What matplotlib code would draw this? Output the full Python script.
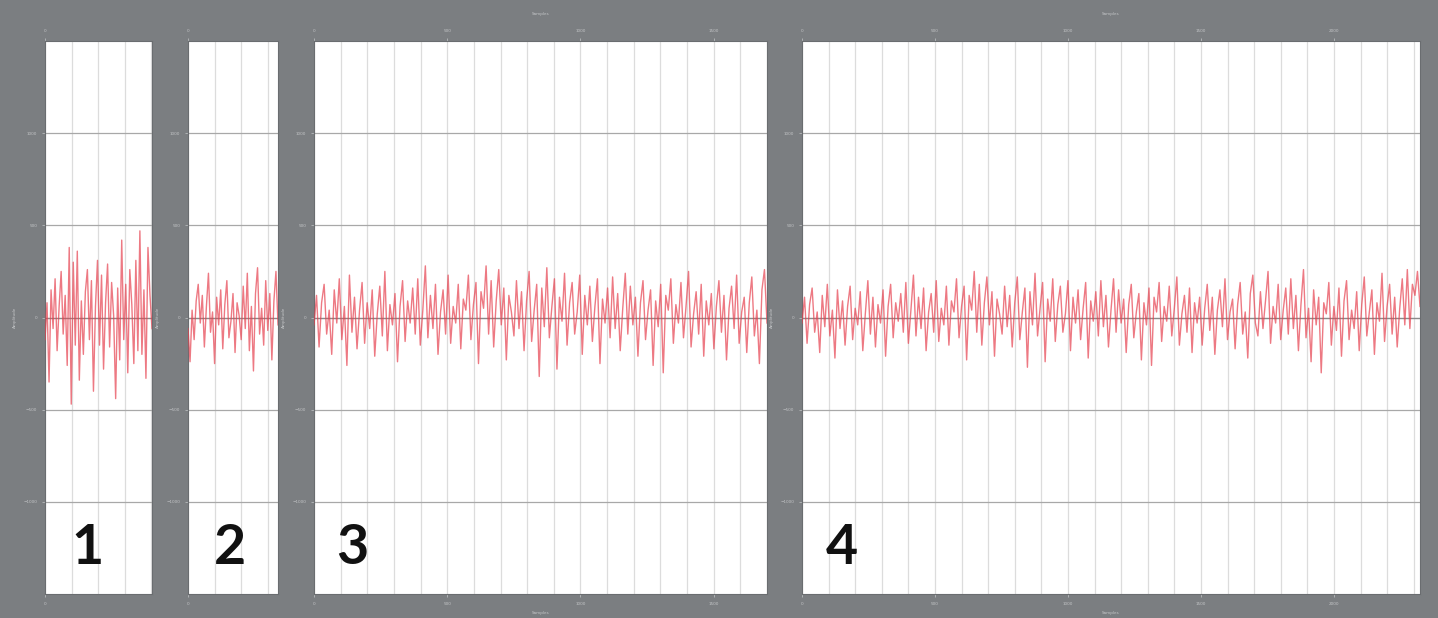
import matplotlib.pyplot as plt
import numpy as np

# signal values (same y units for every panel)
panel1 = [-120, 80, -350, 150, -60, 210, -180, 60, 250, -90, 120, -260, 380, -470, 300, -150,
          360, -340, 90, -200, 140, 260, -120, 200, -400, 60, 310, -150, 230, -280, 80, 290,
          -160, 190, 10, -440, 160, -230, 420, -120, 180, -300, 260, 70, -250, 310, -180, 470,
          -200, 150, -330, 380, 120, -60]

panel2 = [-60, -240, 40, -120, 90, 180, -30, 120, -160, 60, 240, -80, 30, -250, 110, -40,
          150, -170, 70, 200, -110, -20, 130, -190, 80, 10, -120, 170, -60, 240, -180, 60,
          -290, 130, 270, -90, 50, -150, 200, -70, 130, -230, 90, 250, -40]

panel3 = [-40, 120, -160, 80, 180, -90, 40, -200, 150, -30, 210, -120, 60, -260, 230, -80, 110, -170, 40, 190,
          -140, 80, -60, 150, -210, 20, 170, -100, 250, -180, 70, -40, 130, -240, 60, 200, -130, 90, -30, 160,
          -90, 210, -150, 40, 280, -110, 120, -60, 180, -200, 30, 150, -90, 230, -140, 60, -30, 180, -170, 100,
          40, 230, -120, 70, 190, -250, 140, 50, 280, -90, 200, -160, 90, 260, -40, 160, -230, 120, 30, -100,
          200, -60, 140, -180, 90, 250, -130, 40, 180, -320, 160, -50, 270, -110, 60, 210, -280, 110, -20, 240,
          -150, 80, 190, -90, 30, 230, -200, 120, -40, 170, -130, 60, 210, -250, 100, -30, 160, -110, 220, -60,
          130, -180, 50, 240, -90, 170, -40, 110, -210, 80, 200, -120, 40, 150, -260, 90, -50, 180, -300, 120,
          40, 210, -140, 70, -30, 190, -110, 60, 250, -160, 20, 140, -90, 180, -210, 90, -40, 130, -170, 60,
          200, -80, 120, -230, 50, 170, -60, 230, -140, 30, 110, -190, 80, 220, -100, 40, -250, 150, 260, -30]

panel4 = [-30, 110, -140, 70, 160, -80, 30, -190, 120, -50, 180, -100, 40, -220, 150, -60, 90, -150, 60, 170,
          -120, 50, -40, 140, -180, 20, 200, -90, 110, -160, 70, -30, 150, -210, 60, 180, -110, 80, -20, 130,
          -80, 190, -140, 40, 230, -100, 110, -60, 160, -180, 30, 130, -80, 200, -130, 50, -40, 170, -150, 90,
          30, 210, -110, 60, 170, -230, 120, 40, 250, -80, 180, -150, 80, 220, -40, 140, -210, 100, 20, -90,
          170, -50, 120, -160, 80, 220, -120, 30, 160, -270, 140, -40, 240, -100, 50, 190, -240, 100, -20, 210,
          -130, 70, 170, -80, 20, 200, -180, 110, -30, 150, -120, 50, 190, -220, 90, -20, 140, -100, 200, -50,
          120, -160, 40, 210, -80, 150, -30, 100, -190, 70, 180, -110, 30, 130, -230, 80, -40, 160, -260, 110,
          30, 190, -130, 60, -20, 170, -100, 50, 220, -150, 20, 120, -80, 160, -190, 80, -30, 110, -150, 50,
          180, -70, 110, -200, 40, 150, -50, 210, -120, 30, 100, -170, 70, 190, -90, 30, -220, 130, 230, -30,
          -100, 140, -60, 90, 250, -140, 60, -30, 180, -120, 40, 160, -90, 210, -60, 120, -180, 70, 260, -110,
          50, -240, 150, -40, 110, -300, 80, 20, 190, -150, 60, -70, 160, -210, 90, 200, -120, 40, -60, 140,
          -180, 70, 220, -100, 30, 150, -200, 80, -20, 240, -130, 60, 180, -90, 110, -160, 50, 210, -40, 260,
          -60, 180, 120, 250, 60]

series = [panel1, panel2, panel3, panel4]
x_ends = [402, 338, 1700, 2323]          # samples shown in each panel
labels = ['1', '2', '3', '4']
label_x = [0.40, 0.467, 0.084, 0.065]

bg = '#7b7e81'
tick_col = '#c4c6c8'

fig = plt.figure(figsize=(14.38, 6.18), dpi=100, facecolor=bg)

# panel rectangles in pixels
boxes = [(45, 152), (188, 278), (314, 767), (802, 1420)]
top, bottom = 41, 594

for (x0, x1), vals, xend, lab, lx in zip(boxes, series, x_ends, labels, label_x):
    ax = fig.add_axes([x0 / 1438, 1 - bottom / 618, (x1 - x0) / 1438, (bottom - top) / 618])
    ax.set_facecolor('white')
    x = np.linspace(0, xend, len(vals))
    ax.plot(x, vals, color='#e6404e', lw=1.0, alpha=0.7, zorder=3)
    ax.axhline(0, color='#8a8a8a', lw=0.9, zorder=2)

    ax.set_xlim(0, xend)
    ax.set_ylim(-1500, 1500)
    ax.set_xticks(np.arange(0, xend + 1, 500))
    ax.set_xticks(np.arange(0, xend + 1, 100), minor=True)
    ax.set_yticks([-1000, -500, 0, 500, 1000])
    ax.grid(which='minor', axis='x', color='#dcdcdc', lw=0.9)
    ax.grid(which='major', axis='x', color='#dcdcdc', lw=0.9)
    ax.grid(which='major', axis='y', color='#a8a8a8', lw=0.9)
    ax.set_axisbelow(True)

    ax.tick_params(which='both', colors=tick_col, labelsize=3, length=2, width=0.5,
                   top=True, labeltop=True)
    ax.tick_params(which='minor', length=0)
    for s in ax.spines.values():
        s.set_color('#6a6d70')
        s.set_linewidth(0.8)

    ax.set_ylabel('Amplitude', color=tick_col, fontsize=3, labelpad=5)
    if xend > 1000:
        ax.set_xlabel('Samples', color=tick_col, fontsize=3, labelpad=4)
        ax.text(0.5, 1.045, 'Samples', transform=ax.transAxes, color=tick_col,
                fontsize=3, ha='center', va='bottom')

    ax.text(lx, 0.083, lab, transform=ax.transAxes, fontsize=40, color='#111111',
            family='Lato', weight='bold', ha='center', va='center')

fig.savefig('out.png', dpi=100, facecolor=bg)
